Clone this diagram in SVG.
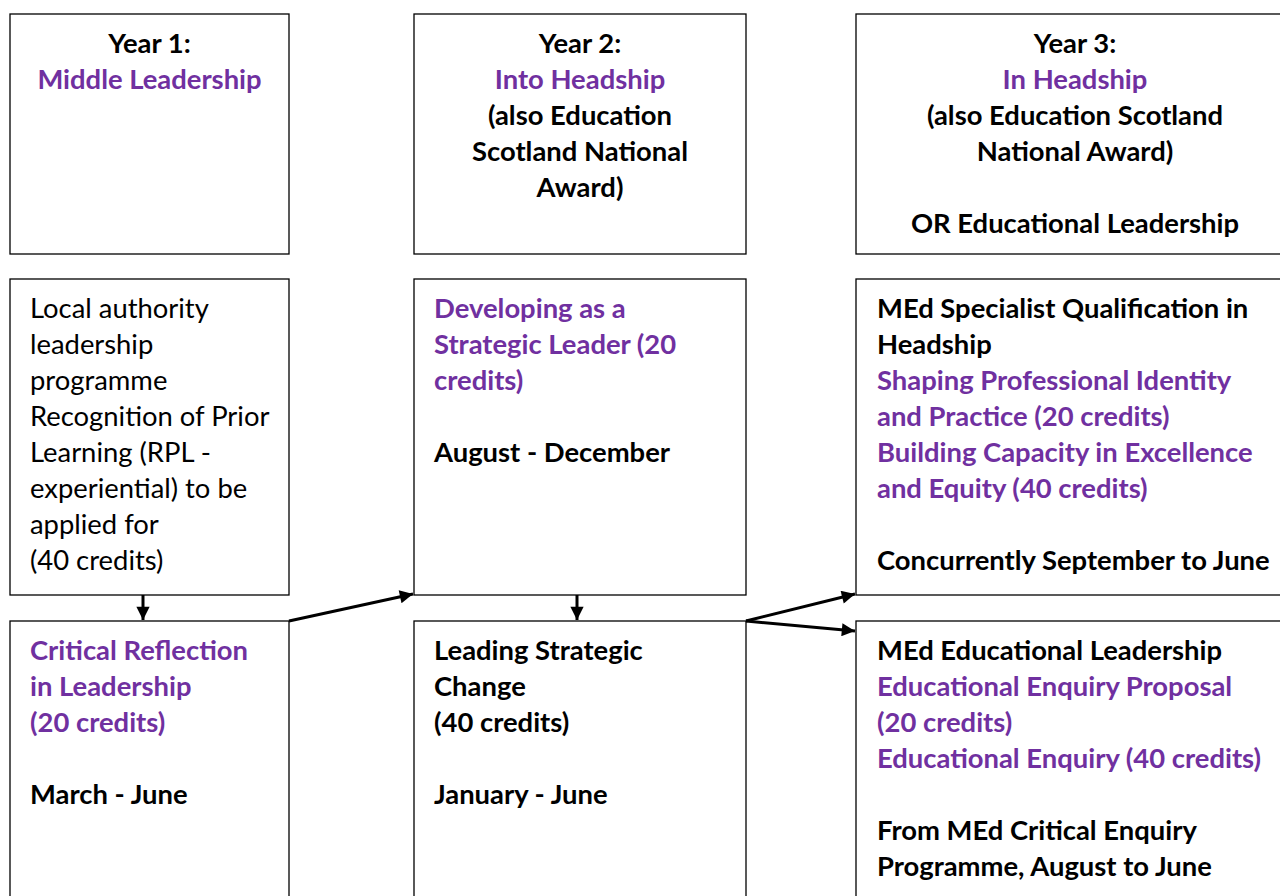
<svg xmlns="http://www.w3.org/2000/svg" width="1280" height="896" viewBox="0 0 1280 896">
<style>
.box{fill:#fff;stroke:#000;stroke-width:1.3}
text{font-family:Lato,"Open Sans","Liberation Sans",sans-serif;font-size:27.4px;font-weight:bold;fill:#000}
.p{fill:#7030A0}
.r{font-weight:normal}
.c{text-anchor:middle}
.conn{stroke:#000;stroke-width:3;fill:none}
</style>
<defs>
<marker id="ah" viewBox="0 0 10 10" refX="10" refY="5" markerWidth="5" markerHeight="4.4" orient="auto" markerUnits="strokeWidth">
<path d="M0,0 L10,5 L0,10 z" fill="#000"/>
</marker>
</defs>
<rect width="1280" height="896" fill="#fff"/>

<g id="y1">
<rect class="box" x="10" y="14" width="279" height="240"/>
<text class="c" x="149.5" y="53">Year 1:</text>
<text class="c p" x="149.5" y="89">Middle Leadership</text>
</g>
<g id="y2">
<rect class="box" x="414" y="14" width="332" height="240"/>
<text class="c" x="580" y="53">Year 2:</text>
<text class="c p" x="580" y="89">Into Headship</text>
<text class="c" x="580" y="125">(also Education</text>
<text class="c" x="580" y="161">Scotland National</text>
<text class="c" x="580" y="197">Award)</text>
</g>
<g id="y3">
<rect class="box" x="856" y="14" width="440" height="240"/>
<text class="c" x="1075" y="53">Year 3:</text>
<text class="c p" x="1075" y="89">In Headship</text>
<text class="c" x="1075" y="125">(also Education Scotland</text>
<text class="c" x="1075" y="161">National Award)</text>
<text class="c" x="1075" y="233">OR Educational Leadership</text>
</g>

<g id="local">
<rect class="box" x="10" y="279" width="279" height="316"/>
<text class="r" x="30" y="318">Local authority</text>
<text class="r" x="30" y="354">leadership</text>
<text class="r" x="30" y="390">programme</text>
<text class="r" x="30" y="426">Recognition of Prior</text>
<text class="r" x="30" y="462">Learning (RPL -</text>
<text class="r" x="30" y="498">experiential) to be</text>
<text class="r" x="30" y="534">applied for</text>
<text class="r" x="30" y="570">(40 credits)</text>
</g>
<g id="developing">
<rect class="box" x="414" y="279" width="332" height="316"/>
<text class="p" x="434" y="318">Developing as a</text>
<text class="p" x="434" y="354">Strategic Leader (20</text>
<text class="p" x="434" y="390">credits)</text>
<text x="434" y="462">August - December</text>
</g>
<g id="specialist">
<rect class="box" x="856" y="279" width="440" height="316"/>
<text x="877" y="318">MEd Specialist Qualification in</text>
<text x="877" y="354">Headship</text>
<text class="p" x="877" y="390">Shaping Professional Identity</text>
<text class="p" x="877" y="426">and Practice (20 credits)</text>
<text class="p" x="877" y="462">Building Capacity in Excellence</text>
<text class="p" x="877" y="498">and Equity (40 credits)</text>
<text x="877" y="570">Concurrently September to June</text>
</g>

<g id="critical">
<rect class="box" x="10" y="621" width="279" height="300"/>
<text class="p" x="30" y="660">Critical Reflection</text>
<text class="p" x="30" y="696">in Leadership</text>
<text class="p" x="30" y="732">(20 credits)</text>
<text x="30" y="804">March - June</text>
</g>
<g id="leading">
<rect class="box" x="414" y="621" width="332" height="300"/>
<text x="434" y="660">Leading Strategic</text>
<text x="434" y="696">Change</text>
<text x="434" y="732">(40 credits)</text>
<text x="434" y="804">January - June</text>
</g>
<g id="edlead">
<rect class="box" x="856" y="621" width="440" height="300"/>
<text x="877" y="660">MEd Educational Leadership</text>
<text class="p" x="877" y="696">Educational Enquiry Proposal</text>
<text class="p" x="877" y="732">(20 credits)</text>
<text class="p" x="877" y="768">Educational Enquiry (40 credits)</text>
<text x="877" y="840">From MEd Critical Enquiry</text>
<text x="877" y="876">Programme, August to June</text>
</g>

<g id="connectors">
<line class="conn" x1="143" y1="595" x2="143" y2="620" marker-end="url(#ah)"/>
<line class="conn" x1="289" y1="621" x2="413" y2="594" marker-end="url(#ah)"/>
<line class="conn" x1="577" y1="595" x2="577" y2="620" marker-end="url(#ah)"/>
<line class="conn" x1="746" y1="621" x2="855" y2="594" marker-end="url(#ah)"/>
<line class="conn" x1="746" y1="621" x2="855" y2="631" marker-end="url(#ah)"/>
</g>
</svg>
